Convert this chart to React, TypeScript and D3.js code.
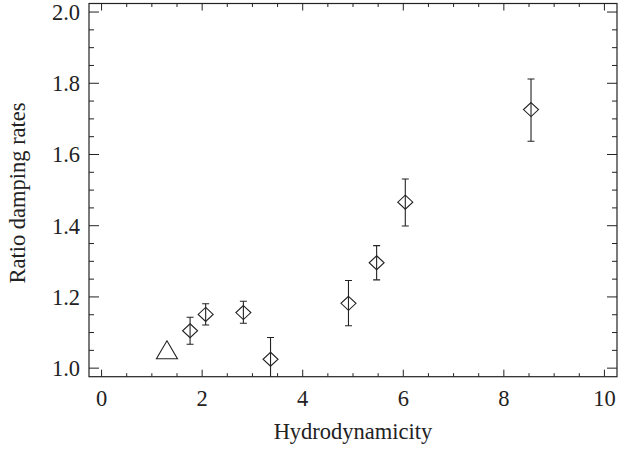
import * as d3 from 'd3';

// measured points (diamonds) with error bars
const hydro = [1.76, 2.07, 2.82, 3.36, 4.91, 5.47, 6.04, 8.54];
const ratio = [1.105, 1.151, 1.156, 1.025, 1.182, 1.296, 1.466, 1.726];
const ratioHigh = [1.143, 1.181, 1.188, 1.086, 1.246, 1.344, 1.531, 1.812];
const ratioLow = [1.067, 1.121, 1.126, 0.964, 1.119, 1.248, 1.399, 1.637];

// single reference point (open triangle)
const refHydro = [1.3];
const refRatio = [1.046];

const xTicks = [0, 2, 4, 6, 8, 10];
const yTicks = [1.0, 1.2, 1.4, 1.6, 1.8, 2.0];

const App = () => {
  const width = 618;
  const height = 449;
  const left = 89;
  const right = 617;
  const top = 3.5;
  const bottom = 376.7;
  const ink = '#222';
  const font = '"Liberation Serif", "Times New Roman", serif';
  const fs = 22.5;

  const x = d3.scaleLinear().domain([-0.25, 10.25]).range([left, right]);
  const y = d3.scaleLinear().domain([0.976, 2.024]).range([bottom, top]);

  const xMinor = d3.range(0, 10.01, 0.5).filter(v => Math.abs(v % 2) > 0.01);
  const yMinor = d3.range(1.0, 2.001, 0.05).filter(v => !yTicks.some(t => Math.abs(t - v) < 0.001));

  const diamond = (cx: number, cy: number) =>
    `M${cx},${cy - 7}L${cx + 7.5},${cy}L${cx},${cy + 7}L${cx - 7.5},${cy}Z`;
  const triangle = (cx: number, cy: number) =>
    `M${cx},${cy - 11}L${cx + 10.5},${cy + 7}L${cx - 10.5},${cy + 7}Z`;

  return (
    <svg
      width={width}
      height={height}
      style={{ position: 'absolute', left: 0, top: 0, background: '#fff' }}
    >
      <defs>
        <clipPath id="plot">
          <rect x={left} y={top} width={right - left} height={bottom - top} />
        </clipPath>
      </defs>

      {/* frame */}
      <rect x={left} y={top} width={right - left} height={bottom - top}
        fill="none" stroke={ink} strokeWidth={1.2} />

      {/* x ticks, bottom and top */}
      {xTicks.map(t => (
        <g key={'xt' + t}>
          <line x1={x(t)} x2={x(t)} y1={bottom} y2={bottom - 7} stroke={ink} />
          <line x1={x(t)} x2={x(t)} y1={top} y2={top + 7} stroke={ink} />
          <text x={x(t)} y={406} textAnchor="middle" fontFamily={font}
            fontSize={fs} fill={ink}>{t}</text>
        </g>
      ))}
      {xMinor.map(t => (
        <g key={'xm' + t}>
          <line x1={x(t)} x2={x(t)} y1={bottom} y2={bottom - 3.5} stroke={ink} />
          <line x1={x(t)} x2={x(t)} y1={top} y2={top + 3.5} stroke={ink} />
        </g>
      ))}

      {/* y ticks, left and right */}
      {yTicks.map(t => (
        <g key={'yt' + t}>
          <line x1={left} x2={left + 10} y1={y(t)} y2={y(t)} stroke={ink} />
          <line x1={right} x2={right - 10} y1={y(t)} y2={y(t)} stroke={ink} />
          <text x={80} y={y(t)} dy="0.35em" textAnchor="end" fontFamily={font}
            fontSize={fs} fill={ink}>{t.toFixed(1)}</text>
        </g>
      ))}
      {yMinor.map(t => (
        <g key={'ym' + t.toFixed(2)}>
          <line x1={left} x2={left + 5} y1={y(t)} y2={y(t)} stroke={ink} />
          <line x1={right} x2={right - 5} y1={y(t)} y2={y(t)} stroke={ink} />
        </g>
      ))}

      {/* axis titles */}
      <text x={(left + right) / 2} y={439} textAnchor="middle" fontFamily={font}
        fontSize={fs} fill={ink}>Hydrodynamicity</text>
      <text transform="translate(25,193) rotate(-90)"
        textAnchor="middle" fontFamily={font} fontSize={fs} fill={ink}>
        Ratio damping rates
      </text>

      {/* data */}
      <g clipPath="url(#plot)" fill="none" stroke={ink} strokeWidth={1.1}>
        {hydro.map((h, i) => (
          <g key={'p' + i}>
            <line x1={x(h)} x2={x(h)} y1={y(ratioLow[i])} y2={y(ratioHigh[i])} />
            <line x1={x(h) - 3.5} x2={x(h) + 3.5} y1={y(ratioHigh[i])} y2={y(ratioHigh[i])} />
            <line x1={x(h) - 3.5} x2={x(h) + 3.5} y1={y(ratioLow[i])} y2={y(ratioLow[i])} />
            <path d={diamond(x(h), y(ratio[i]))} />
          </g>
        ))}
        {refHydro.map((h, i) => (
          <path key={'r' + i} d={triangle(x(h), y(refRatio[i]))} />
        ))}
      </g>
    </svg>
  );
};

export default App;
